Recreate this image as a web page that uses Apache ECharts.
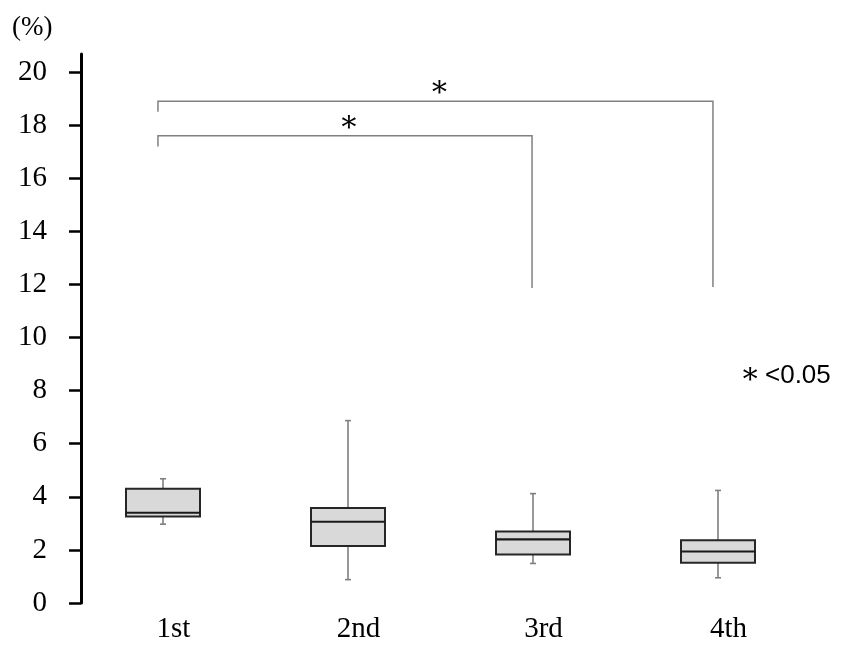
<!DOCTYPE html>
<html>
<head>
<meta charset="utf-8">
<script src="https://cdn.jsdelivr.net/npm/echarts@6/dist/echarts.min.js"></script>
<style>html,body{margin:0;padding:0;background:#fff;}#chart{width:849px;height:655px;}</style>
</head>
<body>
<div id="chart"></div>
<script>
// ---- data ----
const categories = ['1st', '2nd', '3rd', '4th'];
// box statistics per category
const lowWhisker = [2.97, 0.88, 1.49, 0.95];
const q1Values   = [3.26, 2.15, 1.83, 1.52];
const medians    = [3.40, 3.06, 2.40, 1.94];
const q3Values   = [4.30, 3.58, 2.69, 2.36];
const highWhisker= [4.68, 6.87, 4.12, 4.24];
const yTickValues = [0, 2, 4, 6, 8, 10, 12, 14, 16, 18, 20];
// significance brackets: [left x, right x, top y, left end y, right end y] (x in category units)
const bracketSmall = [-0.084, 1.938, 17.6, 17.2, 11.87];
const bracketBig   = [-0.084, 2.916, 18.9, 18.5, 11.9];
const sigMark = '∗';
const legendNote = '<0.05';
const unitLabel = '(%)';

const boxData = categories.map((c, i) => [i, lowWhisker[i], q1Values[i], medians[i], q3Values[i], highWhisker[i]]);
const bracketData = [bracketSmall, bracketBig];

const SHIFT = -10.5;
const SERIF = '"Liberation Serif", serif';
const STAR_FONT = '30px "DejaVu Serif", serif';

const chart = echarts.init(document.getElementById('chart'), null, {renderer: 'canvas'});

function renderBox(params, api) {
  const x = api.value(0);
  const pLow = api.coord([x, api.value(1)]);
  const pQ1 = api.coord([x, api.value(2)]);
  const pMed = api.coord([x, api.value(3)]);
  const pQ3 = api.coord([x, api.value(4)]);
  const pHigh = api.coord([x, api.value(5)]);
  const bw = api.size([1, 0])[0] * 0.4;
  const cx = pLow[0] + SHIFT;
  const cap = 3;
  const wStyle = {stroke: '#7f7f7f', lineWidth: 1.6};
  return {
    type: 'group',
    children: [
      {type: 'line', shape: {x1: cx, y1: pQ3[1], x2: cx, y2: pHigh[1]}, style: wStyle},
      {type: 'line', shape: {x1: cx - cap, y1: pHigh[1], x2: cx + cap, y2: pHigh[1]}, style: wStyle},
      {type: 'line', shape: {x1: cx, y1: pQ1[1], x2: cx, y2: pLow[1]}, style: wStyle},
      {type: 'line', shape: {x1: cx - cap, y1: pLow[1], x2: cx + cap, y2: pLow[1]}, style: wStyle},
      {type: 'rect', shape: {x: cx - bw / 2, y: pQ3[1], width: bw, height: pQ1[1] - pQ3[1]},
        style: {fill: '#d9d9d9', stroke: '#262626', lineWidth: 2}},
      {type: 'line', shape: {x1: cx - bw / 2, y1: pMed[1], x2: cx + bw / 2, y2: pMed[1]},
        style: {stroke: '#1a1a1a', lineWidth: 2.2}}
    ]
  };
}

function renderBracket(params, api) {
  const xl = api.value(0), xr = api.value(1);
  const pLT = api.coord([xl, api.value(2)]);
  const pLE = api.coord([xl, api.value(3)]);
  const pRT = api.coord([xr, api.value(2)]);
  const pRE = api.coord([xr, api.value(4)]);
  return {
    type: 'group',
    children: [
      {type: 'polyline', shape: {points: [[pLE[0], pLE[1]], [pLT[0], pLT[1]], [pRT[0], pRT[1]], [pRE[0], pRE[1]]]},
        style: {stroke: '#808080', lineWidth: 1.5, fill: null}},
      {type: 'text', x: (pLT[0] + pRT[0]) / 2 + 4, y: pLT[1] - 13,
        style: {text: sigMark, font: STAR_FONT, fill: '#000', align: 'center', verticalAlign: 'middle'}}
    ]
  };
}

chart.setOption({
  animation: false,
  backgroundColor: '#fff',
  grid: {left: 81, right: 28, top: 54, bottom: 52, containLabel: false},
  xAxis: [
    {
      type: 'category', data: categories, boundaryGap: true,
      axisLine: {show: false}, axisTick: {show: false}, splitLine: {show: false},
      axisLabel: {color: '#000', fontFamily: SERIF, fontSize: 29, margin: 12}
    },
    {type: 'value', min: -0.5, max: 3.5, show: false}
  ],
  yAxis: {
    type: 'value', min: 0, max: 20.68,
    splitLine: {show: false},
    axisLine: {show: true, onZero: false, lineStyle: {color: '#000', width: 3}},
    axisTick: {show: true, length: 12, inside: false, lineStyle: {color: '#000', width: 2.5}, customValues: yTickValues},
    axisLabel: {color: '#000', fontFamily: SERIF, fontSize: 29, margin: 34, customValues: yTickValues}
  },
  series: [
    {
      type: 'custom', name: 'box', xAxisIndex: 1, yAxisIndex: 0,
      data: boxData, renderItem: renderBox,
      encode: {x: 0, y: [1, 2, 3, 4, 5]}, silent: true, clip: false
    },
    {
      type: 'custom', name: 'brackets', xAxisIndex: 1, yAxisIndex: 0,
      data: bracketData, renderItem: renderBracket,
      encode: {x: [0, 1], y: [2, 3, 4]}, silent: true, clip: false
    }
  ],
  graphic: [
    {type: 'text', left: 12, top: 14, style: {text: unitLabel, font: '27px ' + SERIF, fill: '#000'}},
    {type: 'text', left: 740, top: 360, style: {text: sigMark, font: STAR_FONT, fill: '#000'}},
    {type: 'text', left: 765, top: 363, style: {text: legendNote, font: '26px "Liberation Sans", sans-serif', fill: '#000'}}
  ]
});
</script>
</body>
</html>
